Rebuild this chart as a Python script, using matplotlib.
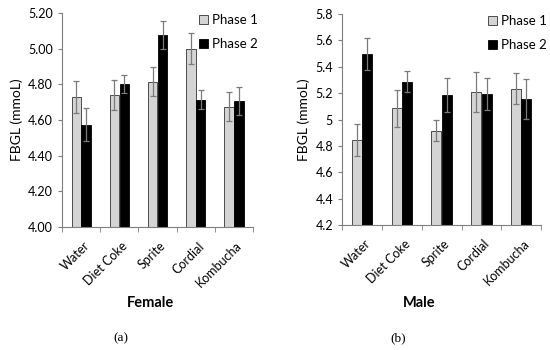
import numpy as np
import matplotlib
matplotlib.use("Agg")
import matplotlib.pyplot as plt
from matplotlib.ticker import FuncFormatter, FixedLocator

drinks = ["Water", "Diet Coke", "Sprite", "Cordial", "Kombucha"]

female_p1 = [4.73, 4.74, 4.815, 5.00, 4.675]
female_p1_err = [0.09, 0.085, 0.08, 0.088, 0.08]
female_p2 = [4.575, 4.80, 5.075, 4.715, 4.705]
female_p2_err = [0.09, 0.05, 0.078, 0.053, 0.078]

male_p1 = [4.845, 5.085, 4.915, 5.21, 5.235]
male_p1_err = [0.12, 0.14, 0.08, 0.15, 0.12]
male_p2 = [5.495, 5.285, 5.185, 5.195, 5.155]
male_p2_err = [0.12, 0.08, 0.13, 0.12, 0.15]

FONT = ["Lato", "DejaVu Sans"]
LIGHT = "#d4d4d4"
DARK = "#000000"
AXIS = "#7f7f7f"


def panel(ax, p1, e1, p2, e2, ylim, yticks, fmt):
    x = np.arange(len(drinks))
    w = 0.25
    err_kw = dict(ecolor="#7a7a7a", elinewidth=0.9, capsize=2.5, capthick=0.9)
    ax.bar(x - 0.13, p1, w, yerr=e1, color=LIGHT, edgecolor="#333333",
           linewidth=0.6, error_kw=err_kw, label="Phase 1", zorder=2)
    ax.bar(x + 0.13, p2, w, yerr=e2, color=DARK, edgecolor="#000000",
           linewidth=0.6, error_kw=err_kw, label="Phase 2", zorder=2)
    ax.set_xlim(-0.5, len(drinks) - 0.5)
    ax.set_ylim(*ylim)
    ax.set_yticks(yticks)
    ax.yaxis.set_major_formatter(FuncFormatter(fmt))
    ax.set_xticks(x + 0.05)
    ax.set_xticklabels(drinks, rotation=45, ha="right", rotation_mode="anchor",
                       fontsize=9, family=FONT)
    ax.tick_params(axis="x", which="major", length=0, pad=9)
    ax.xaxis.set_minor_locator(FixedLocator(np.arange(-0.5, len(drinks), 1.0)))
    ax.tick_params(axis="x", which="minor", length=3.5, direction="out", color=AXIS)
    ax.tick_params(axis="y", length=3, direction="out", color=AXIS, labelsize=9)
    for lab in ax.get_yticklabels():
        lab.set_family(FONT)
    for s in ["top", "right"]:
        ax.spines[s].set_visible(False)
    for s in ["bottom", "left"]:
        ax.spines[s].set_color(AXIS)
        ax.spines[s].set_linewidth(0.8)
    ax.set_ylabel("FBGL (mmoL)", fontsize=10, family=FONT, labelpad=4)
    leg = ax.legend(loc="upper right", bbox_to_anchor=(1.09, 1.05), frameon=False,
                    prop={"family": FONT, "size": 9.5}, handlelength=0.7,
                    handleheight=0.7, handletextpad=0.3, labelspacing=0.9)
    leg.legend_handles[0].set_edgecolor("#333333")


fig = plt.figure(figsize=(5.5, 3.5), dpi=100)
fig.patch.set_facecolor("white")

ax1 = fig.add_axes([0.113, 0.351, 0.347, 0.612])
panel(ax1, female_p1, female_p1_err, female_p2, female_p2_err,
      (4.0, 5.2), np.arange(4.0, 5.21, 0.2), lambda v, p: f"{v:.2f}")

ax2 = fig.add_axes([0.622, 0.357, 0.362, 0.603])
panel(ax2, male_p1, male_p1_err, male_p2, male_p2_err,
      (4.2, 5.8), np.arange(4.2, 5.81, 0.2), lambda v, p: f"{round(v, 1):g}")

fig.text(151 / 550, 1 - 303 / 350, "Female", ha="center", va="center",
         fontsize=10.5, fontweight="bold", family=FONT)
fig.text(419 / 550, 1 - 303 / 350, "Male", ha="center", va="center",
         fontsize=10.5, fontweight="bold", family=FONT)
fig.text(121 / 550, 1 - 338 / 350, "(a)", ha="center", va="center",
         fontsize=9.5, family=["Liberation Serif", "DejaVu Serif"])
fig.text(398 / 550, 1 - 338 / 350, "(b)", ha="center", va="center",
         fontsize=9.5, family=["Liberation Serif", "DejaVu Serif"])

fig.savefig("out.png", dpi=100, facecolor="white")
